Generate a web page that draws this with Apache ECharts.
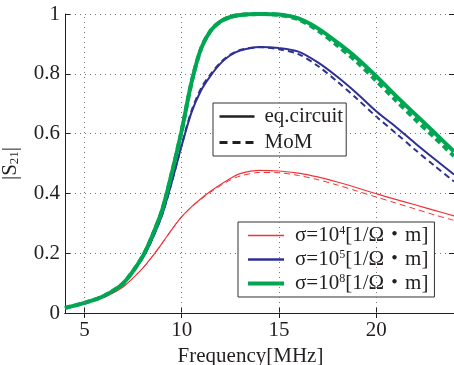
<!DOCTYPE html>
<html><head><meta charset="utf-8">
<script src="https://cdn.jsdelivr.net/npm/echarts@6/dist/echarts.min.js"></script>
<style>html,body{margin:0;padding:0;background:#fff}#c{width:454px;height:365px}</style>
</head><body><div id="c"></div>
<script>
// Frequency [MHz]
var freq = [4,5,6,7,8,8.5,9,9.5,10,10.5,11,11.5,12,12.5,13,14,15,16,17,18,19,20,21,22,23,24];
// sigma = 1e4
var s4Circuit = [0.017,0.033,0.053,0.088,0.150,0.190,0.234,0.280,0.322,0.355,0.383,0.408,0.430,0.450,0.466,0.477,0.475,0.468,0.455,0.438,0.419,0.399,0.380,0.362,0.343,0.325];
var s4MoM     = [0.017,0.033,0.053,0.088,0.150,0.190,0.234,0.280,0.322,0.354,0.381,0.405,0.426,0.445,0.458,0.470,0.469,0.460,0.446,0.428,0.408,0.388,0.368,0.348,0.328,0.310];
// sigma = 1e5
var s5Circuit = [0.017,0.034,0.057,0.100,0.185,0.250,0.330,0.440,0.560,0.670,0.745,0.795,0.835,0.862,0.878,0.890,0.886,0.874,0.838,0.790,0.735,0.675,0.623,0.568,0.515,0.463];
var s5MoM     = [0.017,0.034,0.057,0.100,0.185,0.250,0.330,0.440,0.562,0.675,0.752,0.800,0.838,0.864,0.880,0.889,0.882,0.866,0.826,0.774,0.717,0.657,0.602,0.546,0.492,0.440];
// sigma = 1e8
var s8Circuit = [0.017,0.034,0.057,0.100,0.190,0.260,0.345,0.470,0.610,0.770,0.885,0.945,0.975,0.990,0.997,1.000,0.998,0.985,0.952,0.905,0.853,0.792,0.727,0.665,0.603,0.540];
var s8MoM     = [0.017,0.034,0.057,0.100,0.190,0.260,0.345,0.470,0.610,0.770,0.885,0.945,0.975,0.990,0.997,1.000,0.997,0.982,0.945,0.895,0.840,0.777,0.712,0.648,0.587,0.525];
var xTicks = [5,10,15,20];
var names = ['σ=10^4','σ=10^5','σ=10^8'];
var exps = ['4','5','8'];

function pairs(v){ return freq.map(function(f,i){ return [f, v[i]]; }); }
var RED='#ef3439', BLUE='#2e3192', GREEN='#00a651', INK='#231f20';
var FONT="'Liberation Serif', serif";
var FS=21;

var chart = echarts.init(document.getElementById('c'));
function ser(name, data, color, w, dash, z){
  return {name:name, type:'line', data:pairs(data), smooth:0.3, symbol:'none', showSymbol:false, z:z,
    lineStyle:{color:color, width:w, type:dash?[6,4]:'solid'}, itemStyle:{color:color}};
}
var series = [
  ser('m4', s4MoM, RED, 1, true, 3),
  ser(names[0], s4Circuit, RED, 1.2, false, 4),
  ser('m5', s5MoM, BLUE, 2, true, 3),
  ser(names[1], s5Circuit, BLUE, 2, false, 4),
  ser('m8', s8MoM, GREEN, 4, true, 3),
  ser(names[2], s8Circuit, GREEN, 4, false, 4),
  {name:'eq.circuit', type:'line', data:[], symbol:'none', lineStyle:{color:INK, width:2.5}, itemStyle:{color:INK}},
  {name:'MoM', type:'line', data:[], symbol:'none', lineStyle:{color:INK, width:3, type:[8,5]}, itemStyle:{color:INK}}
];
series[0].markLine = {silent:true, symbol:'none', label:{show:false},
  lineStyle:{color:'#777', width:1, type:[1,4]},
  data: xTicks.map(function(t){ return {xAxis:t}; })};

var hideSym = {color:'rgba(0,0,0,0)', borderColor:'rgba(0,0,0,0)', borderWidth:0};

chart.setOption({
  animation:false,
  textStyle:{fontFamily:FONT},
  grid:{left:65, right:0, top:14, bottom:52, outerBoundsMode:'none', containLabel:false},
  xAxis:[{type:'value', min:4, max:24, position:'bottom',
    axisLine:{lineStyle:{color:INK, width:1}},
    axisTick:{inside:true, length:5, customValues:xTicks, lineStyle:{color:INK}},
    axisLabel:{customValues:xTicks, color:INK, fontSize:FS, fontFamily:FONT, margin:7},
    splitLine:{show:false},
    name:'Frequency[MHz]', nameLocation:'middle', nameGap:30,
    nameTextStyle:{color:INK, fontSize:FS, fontFamily:FONT, padding:[0,18,0,0]}},
   {type:'value', min:4, max:24, position:'top',
    axisLine:{show:true, lineStyle:{color:INK, width:1}},
    axisTick:{inside:true, length:5, customValues:xTicks, lineStyle:{color:INK}},
    axisLabel:{show:false}, splitLine:{show:false}}],
  yAxis:[{type:'value', min:0, max:1, interval:0.2, position:'left',
    axisLine:{show:true, lineStyle:{color:INK, width:1}},
    axisTick:{show:true, inside:true, length:5, lineStyle:{color:INK}},
    axisLabel:{color:INK, fontSize:FS, fontFamily:FONT, margin:5},
    splitLine:{show:true, lineStyle:{color:'#777', width:1, type:[1,4]}},
    name:'|S{sub|21}|', nameLocation:'middle', nameGap:44, nameRotate:90,
    nameTextStyle:{color:INK, fontSize:FS, fontFamily:FONT,
      rich:{sub:{fontSize:13, fontFamily:FONT, color:INK, verticalAlign:'bottom', padding:[8,0,0,0]}}}},
   {type:'value', min:0, max:1, interval:0.2, position:'right',
    axisLine:{show:true, lineStyle:{color:INK, width:1}},
    axisTick:{show:true, inside:true, length:5, lineStyle:{color:INK}},
    axisLabel:{show:false}, splitLine:{show:false}}],
  legend:[
    {data:[{name:'eq.circuit', lineStyle:{width:2.5}}, {name:'MoM', lineStyle:{width:3, type:[8,5]}}],
     orient:'vertical', left:213, top:103, selectedMode:false,
     itemWidth:35, itemHeight:14, itemGap:5, padding:[3,3,3,5], itemStyle:hideSym,
     lineStyle:{width:'inherit'},
     borderColor:'#333', borderWidth:1, backgroundColor:'#fff',
     textStyle:{color:INK, fontSize:FS, fontFamily:FONT, padding:[0,0,0,5]}},
    {data:[{name:names[0], lineStyle:{width:1.6}}, {name:names[1], lineStyle:{width:2.5}}, {name:names[2], lineStyle:{width:4}}],
     orient:'vertical', left:238, top:222, selectedMode:false,
     itemWidth:36, itemHeight:14, itemGap:3, padding:[3,6,3,8], itemStyle:hideSym,
     lineStyle:{width:'inherit'},
     borderColor:'#333', borderWidth:1, backgroundColor:'#fff',
     formatter:function(n){ var i=names.indexOf(n); return 'σ=10{sup|'+exps[i]+'}[1/Ω・m]'; },
     textStyle:{color:INK, fontSize:FS, fontFamily:"'Liberation Serif','Noto Sans CJK JP',serif", padding:[0,0,0,6],
       rich:{sup:{fontSize:12, fontFamily:FONT, color:INK, verticalAlign:'top', padding:[0,0,8,0]}}}}
  ],
  series:series
});
</script></body></html>
